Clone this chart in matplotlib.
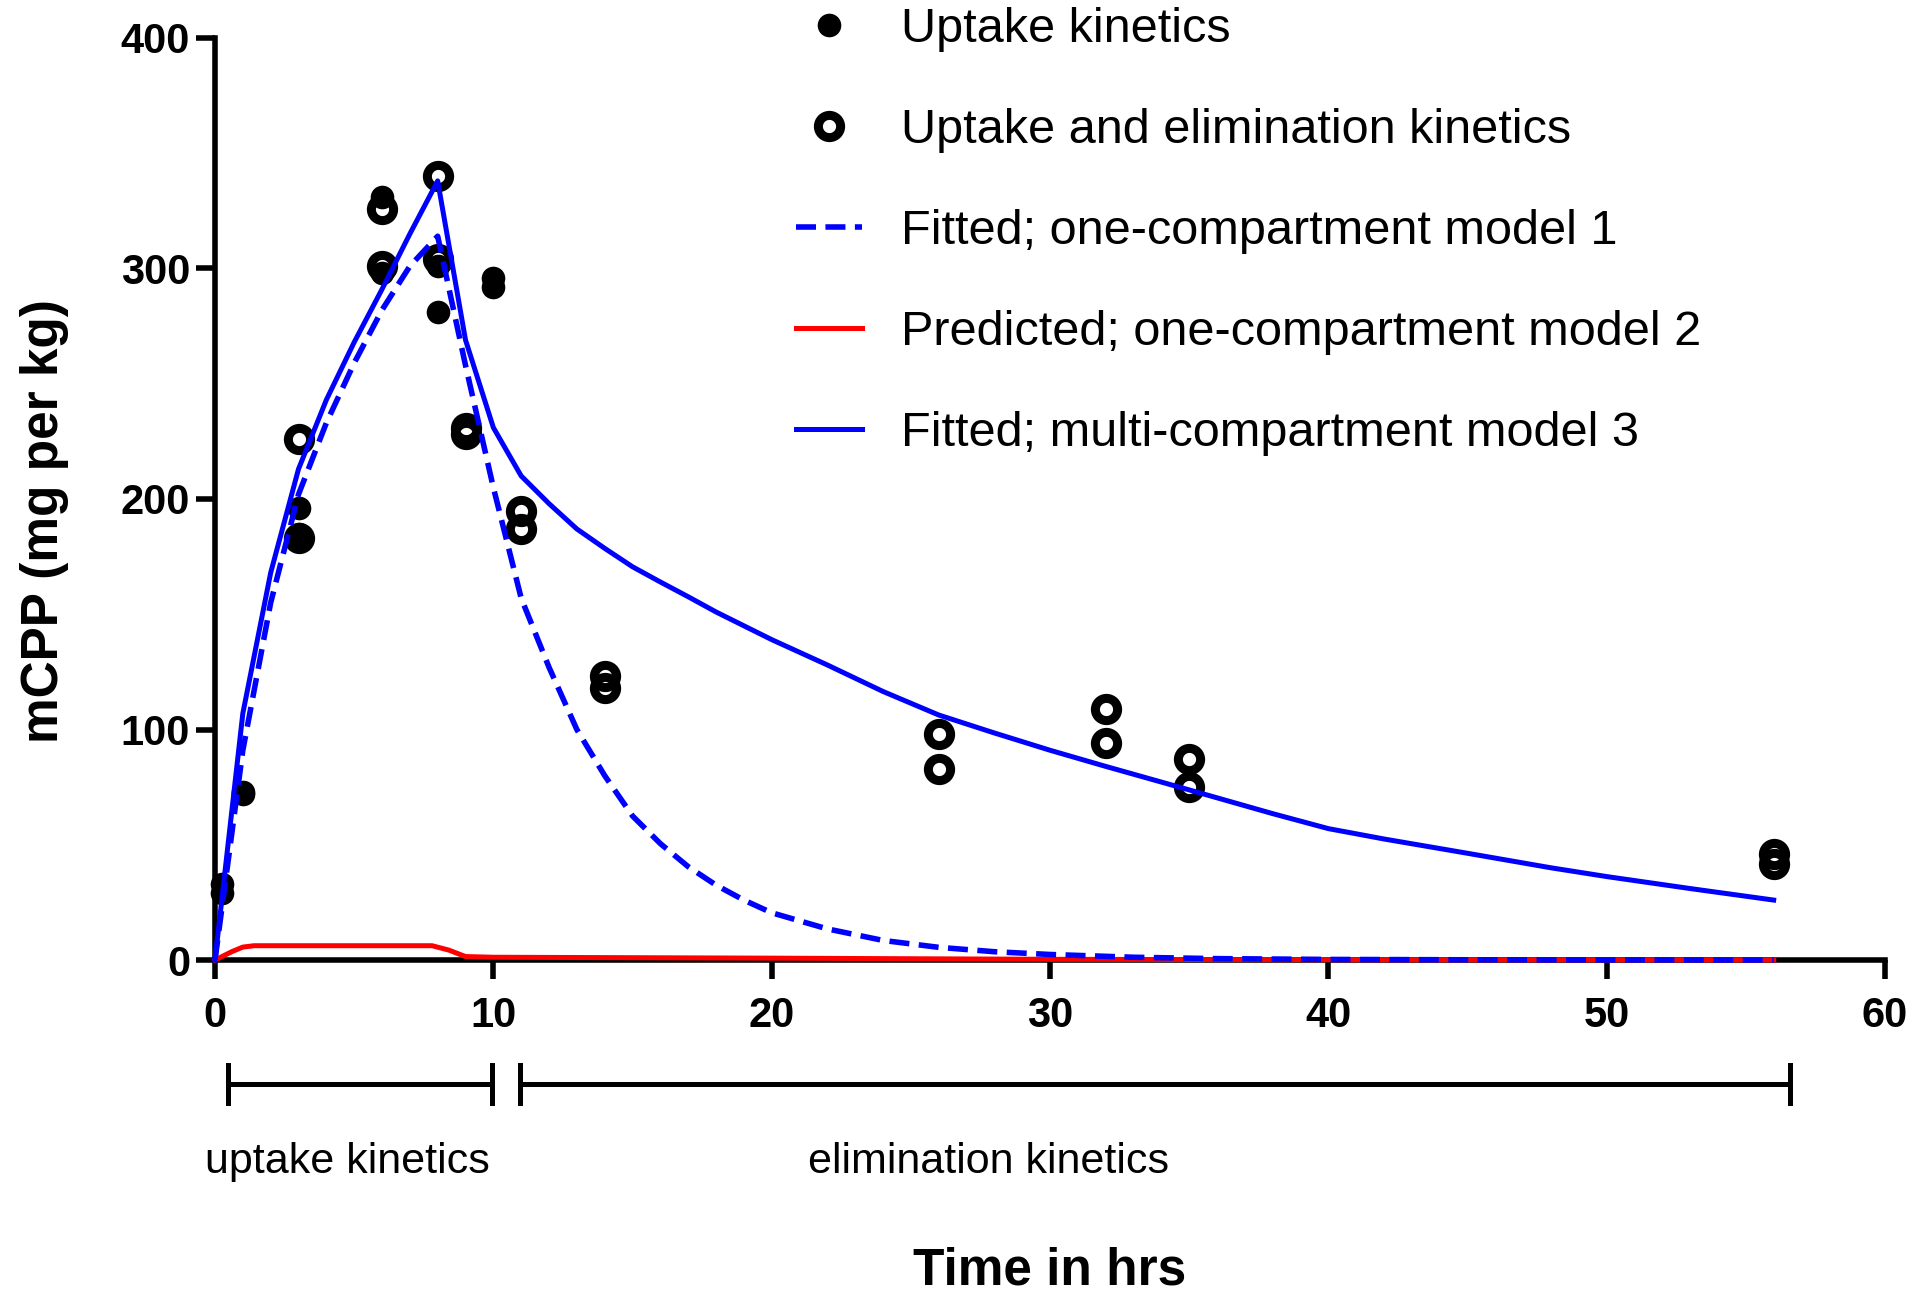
import matplotlib
matplotlib.use('Agg')
import matplotlib.pyplot as plt
import matplotlib.transforms as mtransforms

plt.rcParams['font.family'] = ['Liberation Sans', 'DejaVu Sans']

# measured points (hours, mg per kg)
uptake_t = [0.25, 0.25, 1, 1, 3, 3, 6, 6, 8, 8, 10, 10]
uptake_c = [33, 29, 73, 72, 196, 185, 331, 298, 301, 281, 296, 292]

elim_t = [3, 3, 6, 6, 8, 8, 9, 9, 11, 11, 14, 14, 26, 26, 32, 32, 35, 35, 56, 56]
elim_c = [226, 183, 326, 301, 340, 304, 231, 228, 195, 187, 123, 118, 98, 83, 109, 94, 87, 75, 46, 41.5]

# model 1: fitted one-compartment
model1_t = [0, 1, 2, 3, 4, 5, 6, 7, 8, 9, 10, 11, 12, 13, 14, 15, 16, 17, 18, 19, 20,
            22, 24, 26, 28, 30, 33, 36, 40, 45, 50, 56]
model1_c = [0, 91, 155, 202, 233, 259, 282, 301, 314, 258, 205, 157, 127, 100, 80, 62.5, 50.5, 40.5, 32.5, 26, 20.5,
            13.5, 8.5, 5.5, 3.6, 2.4, 1.2, 0.6, 0.25, 0.1, 0.05, 0]

# model 2: predicted one-compartment
model2_t = [0, 0.6, 1, 1.4, 7.8, 8.4, 9, 10, 15, 20, 30, 40, 56]
model2_c = [0, 3.6, 5.6, 6.2, 6.2, 4.3, 1.5, 1.2, 1.0, 0.8, 0.3, 0.1, 0]

# model 3: fitted multi-compartment
model3_t = [0, 1, 2, 3, 4, 5, 6, 7, 8, 9, 10, 11, 12, 13, 14, 15, 16, 17, 18, 20, 22, 24,
            26, 28, 30, 32, 35, 38, 40, 42, 45, 48, 50, 53, 56]
model3_c = [0, 107, 168, 213, 243, 268, 291, 315, 338, 269, 231, 210, 198, 187, 178.6, 170.6, 164, 157.6,
            151, 139, 128, 116.5, 106.3, 98.5, 91, 84, 73.8, 63.5, 57, 52.5, 46.3, 40, 36.2, 31, 26]

phases = ['uptake kinetics', 'elimination kinetics']
phase_span = [(0.45, 9.95), (10.95, 56.6)]
phase_label_x = [4.74, 27.8]

blue = '#0000ff'
red = '#ff0000'

fig = plt.figure(figsize=(19.18, 13.01), dpi=100)
ax = fig.add_axes([0.1121, 0.2621, 0.8707, 0.7087])

h1, = ax.plot(uptake_t, uptake_c, 'o', ms=17, color='black', mew=0, clip_on=False, zorder=3)
h2, = ax.plot(elim_t, elim_c, 'o', ms=16, mfc='none', mec='black', mew=6.5, clip_on=False, zorder=3)
h4, = ax.plot(model2_t, model2_c, '-', color=red, lw=3.6, clip_on=False, zorder=4)
h3, = ax.plot(model1_t, model1_c, color=blue, lw=4, linestyle=(0, (3.6, 1.7)), clip_on=False, zorder=5)
h5, = ax.plot(model3_t, model3_c, '-', color=blue, lw=3.6, clip_on=False, zorder=6)

ax.set_xlim(0, 60)
ax.set_ylim(0, 400)
ax.set_xticks(range(0, 61, 10))
ax.set_yticks(range(0, 401, 100))
for s in ['top', 'right']:
    ax.spines[s].set_visible(False)
for s in ['left', 'bottom']:
    ax.spines[s].set_linewidth(4)
ax.tick_params(direction='out', length=14, width=4, labelsize=30)
ax.tick_params(axis='x', pad=12)
ax.tick_params(axis='y', pad=4)
for lab in ax.get_xticklabels() + ax.get_yticklabels():
    lab.set_fontweight('bold')

ax.set_xlabel('Time in hrs', fontsize=37, fontweight='bold')
ax.xaxis.set_label_coords(0.5, -0.3375)
ax.xaxis.label.set_va('center')
ax.set_ylabel('mCPP (mg per kg)', fontsize=37, fontweight='bold')
ax.yaxis.set_label_coords(-0.102, 0.476)
ax.yaxis.label.set(va='center', ha='center', rotation_mode='anchor')

# phase brackets under the axis
trans = mtransforms.blended_transform_factory(ax.transData, ax.transAxes)
bar_y = -0.1345
half = 0.021
for (a, b), name, lx in zip(phase_span, phases, phase_label_x):
    ax.plot([a, b], [bar_y, bar_y], color='black', lw=3.6, transform=trans, clip_on=False)
    for e in (a, b):
        ax.plot([e, e], [bar_y - half, bar_y + half], color='black', lw=3.6,
                transform=trans, clip_on=False)
    ax.text(lx, -0.219, name, transform=trans, ha='center', va='center', fontsize=31)

labels = ['Uptake kinetics', 'Uptake and elimination kinetics', 'Fitted; one-compartment model 1',
          'Predicted; one-compartment model 2', 'Fitted; multi-compartment model 3']
ax.legend([h1, h2, h3, h4, h5], labels, loc='upper left', bbox_to_anchor=(0.415, 0.9946),
          bbox_transform=fig.transFigure, frameon=False, fontsize=35, handlelength=1.36,
          handletextpad=0.8, labelspacing=1.15, borderpad=0, borderaxespad=0)

fig.savefig('out.png', dpi=100)
